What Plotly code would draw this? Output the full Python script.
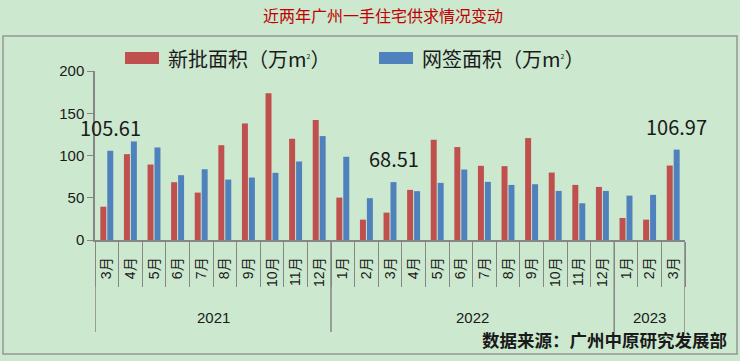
import plotly.graph_objects as go

years = ["2021"] * 10 + ["2022"] * 12 + ["2023"] * 3
months = ["3月", "4月", "5月", "6月", "7月", "8月", "9月", "10月", "11月", "12月",
          "1月", "2月", "3月", "4月", "5月", "6月", "7月", "8月", "9月", "10月", "11月", "12月",
          "1月", "2月", "3月"]
new_approved = [39.4, 101.6, 89.3, 68.4, 56.1, 112.2, 137.9, 173.6, 119.8, 142.0,
                50.2, 24.1, 32.4, 59.3, 118.6, 110.0, 87.8, 87.4, 120.6, 79.8, 65.2, 62.8,
                26.1, 24.1, 88.1]
net_signed = [105.61, 116.6, 109.5, 76.7, 83.7, 71.5, 73.9, 79.5, 92.9, 123.0,
              98.5, 49.5, 68.51, 57.8, 67.6, 83.4, 68.8, 65.2, 66.0, 58.1, 43.5, 58.1,
              52.5, 53.4, 106.97]
series_names = ["新批面积（万m<sup><span style='font-size:7px'>2</span></sup>）",
                "网签面积（万m<sup><span style='font-size:7px'>2</span></sup>）"]
labelled_idx = [0, 12, 24]
y_ticks = [0, 50, 100, 150, 200]

RED = "rgb(192,80,77)"
BLUE = "rgb(79,129,189)"
BG = "rgb(204,232,207)"
AXIS = "rgb(134,134,134)"
FONT = "Liberation Sans, Noto Sans CJK SC, sans-serif"
CJK = "Noto Sans CJK SC, sans-serif"

# plot area in pixels (for converting layout decorations to paper coords)
L, R, T, B = 95, 685, 71, 240
W, H = R - L, B - T
def px(xp):
    return (xp - L) / W
def py(yp):
    return (B - yp) / H

idx = list(range(len(months)))

fig = go.Figure()
fig.add_trace(go.Bar(x=idx, y=new_approved, name=series_names[0], showlegend=False,
                     marker=dict(color=RED, line=dict(width=0))))
fig.add_trace(go.Bar(x=idx, y=net_signed, name=series_names[1], showlegend=False,
                     marker=dict(color=BLUE, line=dict(width=0))))

# value labels above highlighted blue bars
for i in labelled_idx:
    fig.add_annotation(x=i + 0.15, y=net_signed[i], xref="x", yref="y",
                       text=f"{net_signed[i]:.2f}", showarrow=False,
                       yanchor="bottom", yshift=7,
                       font=dict(size=20, color="#1a1a1a", family=CJK))

# year group labels and dividers
groups = []
for i, yv in enumerate(years):
    if not groups or groups[-1][0] != yv:
        groups.append([yv, i, i])
    else:
        groups[-1][2] = i
bounds = sorted({g[1] - 0.5 for g in groups} | {g[2] + 0.5 for g in groups})
for yv, a, b in groups:
    fig.add_annotation(x=(a + b) / 2, xref="x", y=py(317), yref="paper",
                       text=yv, showarrow=False, yanchor="middle",
                       font=dict(size=15, family=FONT, color="#1a1a1a"))
for bx in bounds:
    fig.add_shape(type="line", xref="x", yref="paper", x0=bx, x1=bx,
                  y0=0, y1=py(332), line=dict(color=AXIS, width=1.5))

# legend (drawn manually to get wide swatches)
for name, col, x0 in [(series_names[0], RED, 125), (series_names[1], BLUE, 379)]:
    fig.add_shape(type="rect", xref="paper", yref="paper",
                  x0=px(x0), x1=px(x0 + 34), y0=py(64), y1=py(52),
                  fillcolor=col, line=dict(width=0))
    fig.add_annotation(x=px(x0 + 41), xref="paper", xanchor="left",
                       y=py(58), yref="paper", yanchor="middle",
                       text=name, showarrow=False,
                       font=dict(size=20, family=CJK, color="#1a1a1a"))

# source note
fig.add_annotation(x=px(729), xref="paper", xanchor="right",
                   y=py(339), yref="paper", yanchor="middle",
                   text="<b>数据来源：广州中原研究发展部</b>", showarrow=False,
                   font=dict(size=17.5, color="#1a1a1a", family=CJK))

# title
fig.add_annotation(x=px(383), xref="paper", xanchor="center",
                   y=py(15), yref="paper", yanchor="middle",
                   text="近两年广州一手住宅供求情况变动", showarrow=False,
                   font=dict(size=16, color="rgb(192,0,0)", family=CJK))

# outer chart frame
fig.add_shape(type="rect", xref="paper", yref="paper",
              x0=px(3), x1=px(737), y0=py(354), y1=py(36),
              line=dict(color="rgb(150,150,150)", width=1.5), fillcolor="rgba(0,0,0,0)",
              layer="below")

fig.update_layout(
    width=740, height=361,
    margin=dict(l=L, r=740 - R, t=T, b=361 - B, autoexpand=False),
    paper_bgcolor=BG, plot_bgcolor=BG,
    font=dict(family=FONT, color="#1a1a1a"),
    barmode="group", bargap=0.41, bargroupgap=0.14,
    showlegend=False,
    xaxis=dict(range=[-0.5, len(months) - 0.5], tickvals=idx, ticktext=months,
               showline=True, linecolor=AXIS, linewidth=1.5,
               ticks="outside", ticklen=10, tickcolor="rgba(0,0,0,0)", tickangle=-90,
               tickfont=dict(size=14, family=FONT, color="#1a1a1a"),
               minor=dict(ticks="outside", tick0=-0.5, dtick=1, ticklen=45,
                          tickcolor=AXIS, tickwidth=1.2, showgrid=False),
               showgrid=False, zeroline=False, automargin=False),
    yaxis=dict(range=[0, 200], tickvals=y_ticks, showline=True, linecolor=AXIS,
               linewidth=1.5, ticks="outside", ticklen=6, tickcolor=AXIS,
               tickfont=dict(size=15, family=FONT, color="#1a1a1a"),
               showgrid=False, zeroline=False, automargin=False),
)

fig.write_html("out.html", config={"displayModeBar": False},
               post_script="document.body.style.margin='0px';"
                           "document.body.style.background='rgb(204,232,207)';")
